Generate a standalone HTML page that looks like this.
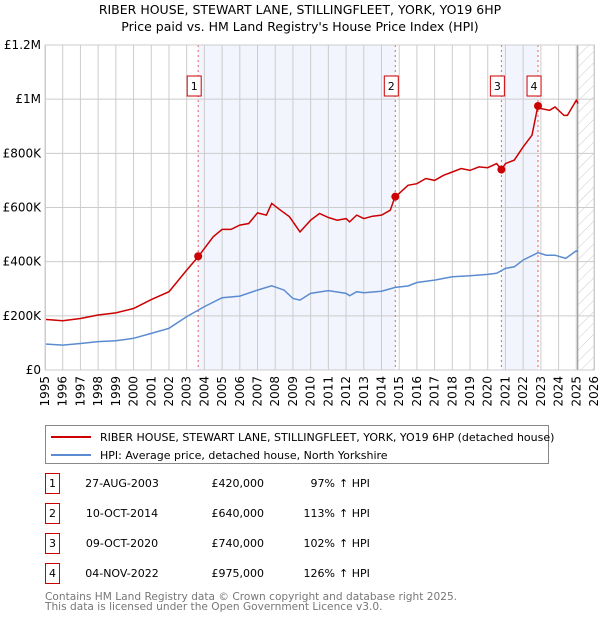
<!DOCTYPE html>
<html><head><meta charset="utf-8"><style>
body{margin:0;background:#fff;}
svg text{font-family:"DejaVu Sans","Liberation Sans",sans-serif;}
</style></head><body>
<svg id="chart" width="600" height="620" xmlns="http://www.w3.org/2000/svg">
<defs><pattern id="hatch" patternUnits="userSpaceOnUse" width="8" height="8" patternTransform="rotate(45)"><line x1="0" y1="0" x2="0" y2="8" stroke="#ccc" stroke-width="1"/></pattern></defs>
<text x="300" y="14" text-anchor="middle" font-size="12.5">RIBER HOUSE, STEWART LANE, STILLINGFLEET, YORK, YO19 6HP</text>
<text x="300" y="31" text-anchor="middle" font-size="12.5">Price paid vs. HM Land Registry's House Price Index (HPI)</text>
<g id="plot"></g>
<g>
<rect x="45.5" y="425.5" width="503" height="38" fill="#fff" stroke="#888"/>
<line x1="51" y1="437" x2="91" y2="437" stroke="#cc0000" stroke-width="2"/>
<text x="100" y="441" font-size="11">RIBER HOUSE, STEWART LANE, STILLINGFLEET, YORK, YO19 6HP (detached house)</text>
<line x1="51" y1="455" x2="91" y2="455" stroke="#5b8bd0" stroke-width="2"/>
<text x="100" y="459" font-size="11">HPI: Average price, detached house, North Yorkshire</text>
</g>
<g id="table"></g>
<text x="45" y="600" font-size="10.6" fill="#777">Contains HM Land Registry data © Crown copyright and database right 2025.</text>
<text x="45" y="610" font-size="10.6" fill="#777">This data is licensed under the Open Government Licence v3.0.</text>
</svg>
<script>
const redYears=[1995,1996,1997,1998,1999,2000,2001,2002,2003,2003.65,2004,2004.5,2005,2005.5,2006,2006.5,2007,2007.5,2007.8,2008.3,2008.8,2009.4,2010,2010.5,2011,2011.5,2012,2012.2,2012.6,2013,2013.5,2014,2014.5,2014.78,2015,2015.5,2016,2016.5,2017,2017.5,2018,2018.5,2019,2019.5,2020,2020.5,2020.77,2021,2021.5,2022,2022.5,2022.84,2023,2023.5,2023.8,2024.3,2024.5,2025,2025.1];
const redValues=[187,182,190,203,211,227,260,289,369,418,449,492,519,519,535,541,580,572,615,590,566,510,553,578,563,553,559,547,572,559,568,572,590,643,652,682,688,707,700,719,731,744,737,750,747,762,740,762,775,824,867,977,965,959,971,940,940,996,984];
const hpiYears=[1995,1996,1997,1998,1999,2000,2001,2002,2003,2003.65,2004,2005,2006,2007,2007.8,2008.5,2009,2009.4,2010,2011,2012,2012.2,2012.6,2013,2014,2014.78,2015.5,2016,2017,2018,2019,2020,2020.5,2021,2021.5,2022,2022.84,2023.3,2023.8,2024.4,2025,2025.1];
const hpiValues=[96,92,98,105,108,117,135,154,197,221,234,267,273,295,311,295,264,258,283,293,283,274,289,285,291,305,310,323,332,344,348,353,357,375,381,406,433,424,424,412,440,436];
const saleLabels=["1","2","3","4"];
const saleYears=[2003.65,2014.78,2020.77,2022.84];
const salePrices=[420,640,740,975];
const saleDates=["27-AUG-2003","10-OCT-2014","09-OCT-2020","04-NOV-2022"];
const salePriceText=["£420,000","£640,000","£740,000","£975,000"];
const salePctText=["97%","113%","102%","126%"];
const yTicks=[0,200,400,600,800,1000,1200];
const yTickLabels=["£0","£200K","£400K","£600K","£800K","£1M","£1.2M"];
const xStart=1995,xEnd=2026;

const NS="http://www.w3.org/2000/svg";
const L=45,R=594,T=45,B=370;
const xs=y=>L+(y-xStart)/(xEnd-xStart)*(R-L);
const ys=v=>B-v/1200*(B-T);
const plot=document.getElementById('plot');
function mk(tag,attrs,parent){const e=document.createElementNS(NS,tag);for(const k in attrs)e.setAttribute(k,attrs[k]);(parent||plot).appendChild(e);return e;}

let el;
el=mk('rect',{x:xs(saleYears[0]),y:T,width:xs(saleYears[1])-xs(saleYears[0]),height:B-T,fill:'#f2f5fd'});


el=mk('rect',{x:xs(saleYears[2]),y:T,width:xs(saleYears[3])-xs(saleYears[2]),height:B-T,fill:'#f2f5fd'});


el=mk('rect',{x:xs(2025.08),y:T,width:R-xs(2025.08),height:B-T,fill:'url(#hatch)'});


for(let yr=xStart;yr<=xEnd;yr++){
 el=mk('line',{x1:xs(yr),x2:xs(yr),y1:T,y2:B,stroke:'#ccc','stroke-width':1});
 
 
 el=mk('text',{x:0,y:0,'font-size':12,'text-anchor':'end',transform:`translate(${xs(yr)+4},${B+6}) rotate(-90)`});
 el.textContent=yr;
 
 
}
yTicks.forEach((v,i)=>{
 el=mk('line',{x1:L,x2:R,y1:ys(v),y2:ys(v),stroke:'#ccc','stroke-width':1});
 
 
 el=mk('text',{x:L-4,y:ys(v)+4,'font-size':12,'text-anchor':'end'});
 el.textContent=yTickLabels[i];
 
 
});
el=mk('line',{x1:xs(2025.08),x2:xs(2025.08),y1:T,y2:B,stroke:'#999','stroke-width':1.2});


saleYears.forEach((y,i)=>{
 el=mk('line',{x1:xs(y),x2:xs(y),y1:T,y2:B,stroke:'#e06060','stroke-width':1,'stroke-dasharray':'2,3'});
 
 
});
function path(xv,yv){return xv.map((x,i)=>(i?'L':'M')+xs(x).toFixed(1)+','+ys(yv[i]).toFixed(1)).join('');}
el=mk('path',{d:path(hpiYears,hpiValues),fill:'none',stroke:'#5b8bd0','stroke-width':1.5});


el=mk('path',{d:path(redYears,redValues),fill:'none',stroke:'#cc0000','stroke-width':1.5});


saleYears.forEach((y,i)=>{
 el=mk('circle',{cx:xs(y),cy:ys(salePrices[i]),r:4,fill:'#cc0000'});
 
 
 const g=mk('g',{});
 
 
 mk('rect',{x:xs(y)-11,y:76,width:14,height:20,fill:'#fff',stroke:'#cc0000'},g);
 const t=mk('text',{x:xs(y)-4,y:90,'font-size':11,'text-anchor':'middle'},g);
 t.textContent=saleLabels[i];
});
el=mk('rect',{x:L+0.5,y:T,width:R-L,height:B-T,fill:'none',stroke:'#ccc'});


const tb=document.getElementById('table');
saleDates.forEach((d,i)=>{
 const cy=483+i*30;
 const r=mk('g',{},tb);
 
 
 mk('rect',{x:45.5,y:cy-9.5,width:14,height:20,fill:'#fff',stroke:'#cc0000'},r);
 let t=mk('text',{x:52.5,y:cy+4,'font-size':11,'text-anchor':'middle'},r);t.textContent=saleLabels[i];
 t=mk('text',{x:122,y:cy+4,'font-size':11,'text-anchor':'middle'},r);t.textContent=d;
 t=mk('text',{x:264,y:cy+4,'font-size':11,'text-anchor':'end'},r);t.textContent=salePriceText[i];
 t=mk('text',{x:335,y:cy+4,'font-size':11,'text-anchor':'end'},r);t.textContent=salePctText[i];
 t=mk('text',{x:339,y:cy+4,'font-size':11},r);t.textContent='↑ HPI';
});
</script>
</body></html>
